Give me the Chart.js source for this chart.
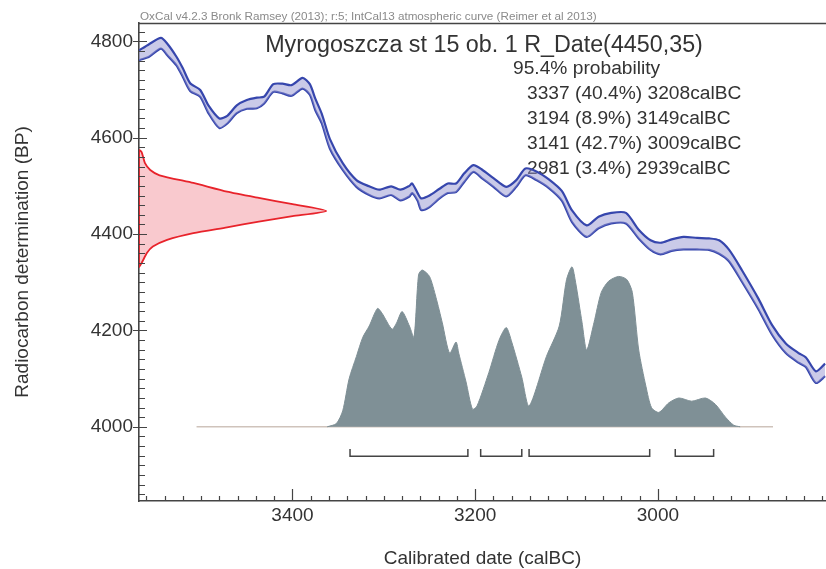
<!DOCTYPE html>
<html>
<head>
<meta charset="utf-8">
<script src="https://cdn.jsdelivr.net/npm/chart.js@4.4.0/dist/chart.umd.min.js"></script>
<style>
html,body{margin:0;padding:0;background:#fff}
#wrap{width:826px;height:569px;position:relative}
</style>
</head>
<body>
<div id="wrap"><canvas id="c" width="826" height="569"></canvas></div>
<script>
// ---------------- data ----------------
const headerText = "OxCal v4.2.3 Bronk Ramsey (2013); r:5; IntCal13 atmospheric curve (Reimer et al 2013)";
const sampleName = "Myrogoszcza st 15 ob. 1";
const rDate = [4450, 35];
const probLabel = "95.4% probability";
const rangeStart = [3337, 3194, 3141, 2981];
const rangeEnd   = [3208, 3149, 3009, 2939];
const rangePct   = [40.4, 8.9, 42.7, 3.4];

const xTickValues = [3400, 3200, 3000];
const yTickValues = [4000, 4200, 4400, 4600, 4800];
const xTitle = "Calibrated date (calBC)";
const yTitle = "Radiocarbon determination (BP)";

// IntCal13 calibration curve (cal BC, BP, 1 sigma)
const calYear = [3568,3557,3544,3537,3527,3520,3512,3501,3492,3480,3471,3461,3450,3439,3431,3421,3411,3401,3389,3381,3375,3368,3359,3345,3330,3316,3305,3292,3282,3272,3269,3263,3259,3250,3239,3230,3221,3212,3202,3192,3180,3166,3155,3145,3133,3119,3105,3094,3078,3065,3051,3035,3021,3008,2997,2985,2972,2957,2944,2933,2922,2908,2890,2875,2860,2846,2838,2827,2817];
const calBP   = [4771,4781,4796,4783,4759,4735,4705,4692,4659,4630,4638,4659,4669,4672,4678,4703,4702,4698,4713,4700,4669,4640,4587,4540,4505,4490,4483,4490,4481,4489,4495,4477,4462,4468,4484,4495,4496,4517,4536,4524,4507,4488,4505,4529,4521,4504,4479,4437,4406,4424,4433,4433,4400,4377,4370,4377,4381,4380,4379,4373,4355,4313,4255,4201,4163,4143,4134,4103,4118];
const calErr  = [10,13,11,12,9,9,8,7,8,10,8,8,9,11,7,8,10,11,11,11,12,10,10,7,7,9,9,9,11,11,10,8,12,12,10,10,9,9,7,9,9,10,7,7,9,9,10,12,12,12,11,11,9,10,12,12,13,12,12,14,12,12,11,10,10,10,10,12,13];

// calibrated probability distribution (relative)
const distYear = [3362,3352,3345,3338,3330,3323,3316,3307,3302,3291,3286,3280,3272,3267,3262,3258,3250,3243,3236,3228,3221,3218,3210,3203,3198,3185,3174,3166,3160,3149,3141,3122,3108,3100,3094,3090,3083,3078,3070,3062,3054,3043,3034,3028,3021,3013,3007,2999,2988,2977,2963,2948,2937,2926,2917,2910];
const distProb = [0,0.02,0.1,0.3,0.44,0.56,0.63,0.74,0.71,0.61,0.65,0.72,0.63,0.56,0.95,0.98,0.94,0.81,0.65,0.46,0.53,0.46,0.28,0.11,0.13,0.34,0.54,0.62,0.53,0.31,0.13,0.44,0.63,0.92,1.0,0.9,0.65,0.48,0.65,0.84,0.91,0.94,0.92,0.84,0.48,0.25,0.12,0.09,0.15,0.18,0.16,0.18,0.14,0.06,0.01,0];
const distLimits = [3505, 2874];

// radiocarbon measurement likelihood (BP, relative density)
const measBP   = [4575,4570,4547,4533,4522,4506,4488,4475,4462,4448,4437,4426,4414,4402,4388,4374,4361,4340,4332];
const measDens = [0,0.014,0.032,0.06,0.11,0.29,0.47,0.64,0.82,1.0,0.82,0.64,0.47,0.29,0.15,0.074,0.043,0.014,0];

// ---------------- layout constants ----------------
const X_MIN = 2816, X_MAX = 3568;
const Y_MIN = 3846, Y_MAX = 4838;
const DIST_BASE_BP = 4000, DIST_PEAK_BP = 4332;
const MEAS_PEAK_YEAR = 3363;
const BRACKET_BP = 3939, BRACKET_TICK_BP = 3954;
const FONT = "'Liberation Sans', Arial, Helvetica, sans-serif";
const TXT = '#333';
const AXIS = '#444';

const f0 = (DIST_BASE_BP - Y_MIN) / (Y_MAX - Y_MIN);
const f1 = (DIST_PEAK_BP - Y_MIN) / (Y_MAX - Y_MIN);
const probSpan = 1 / (f1 - f0);
const probMin = -f0 * probSpan, probMax = probMin + probSpan;
const densMax = (X_MAX - X_MIN) / (X_MAX - MEAS_PEAK_YEAR);

// ---------------- datasets ----------------
const calUpper = calYear.map((x, i) => ({x, y: calBP[i] + calErr[i]}));
const calLower = calYear.map((x, i) => ({x, y: calBP[i] - calErr[i]}));
const distPts = distYear.map((x, i) => ({x, y: distProb[i]}));
const measPts = measBP.map((b, i) => ({x: measDens[i], y: b}));
measPts.push({x: 0, y: measBP[0]});

const datasets = [
  {label:'cal upper', data: calUpper, xAxisID:'x', yAxisID:'y', showLine:true, pointRadius:0,
   borderColor:'#3646ad', borderWidth:2.2, tension:0.25, fill:'+1', backgroundColor:'rgba(150,150,210,0.5)', order:1},
  {label:'cal lower', data: calLower, xAxisID:'x', yAxisID:'y', showLine:true, pointRadius:0,
   borderColor:'#3646ad', borderWidth:2.2, tension:0.25, fill:false, order:1},
  {label:'measurement', data: measPts, xAxisID:'xDens', yAxisID:'y', showLine:true, pointRadius:0,
   borderColor:'#e8232b', borderWidth:1.8, tension:0.2, fill:'shape', backgroundColor:'rgba(238,90,105,0.33)', order:2},
  {label:'baseline', data: distLimits.map(x => ({x, y:0})), xAxisID:'x', yAxisID:'yProb', showLine:true, pointRadius:0,
   borderColor:'#cfc3bb', borderWidth:1.6, fill:false, order:5},
  {label:'distribution', data: distPts, xAxisID:'x', yAxisID:'yProb', showLine:true, pointRadius:0,
   borderColor:'#7e8f95', borderWidth:1, tension:0.25, fill:'origin', backgroundColor:'#7f9096', order:4}
];
rangeStart.forEach((s, i) => {
  datasets.push({label:'range '+(i+1), xAxisID:'x', yAxisID:'y', showLine:true, pointRadius:0,
    borderColor:'#444', borderWidth:1.5, tension:0, fill:false, order:3,
    data:[{x:s,y:BRACKET_TICK_BP},{x:s,y:BRACKET_BP},{x:rangeEnd[i],y:BRACKET_BP},{x:rangeEnd[i],y:BRACKET_TICK_BP}]});
});

// ---------------- plugins ----------------
const annotations = {
  id: 'annotations',
  beforeDatasetsDraw(chart) {
    const {ctx} = chart;
    ctx.save();
    ctx.fillStyle = '#8a8a8a';
    ctx.font = '11.7px ' + FONT;
    ctx.textAlign = 'left'; ctx.textBaseline = 'alphabetic';
    ctx.fillText(headerText, 140, 20);
    ctx.fillStyle = TXT;
    ctx.font = '23.3px ' + FONT;
    ctx.textAlign = 'center';
    ctx.fillText(sampleName + ' R_Date(' + rDate[0] + ',' + rDate[1] + ')', 484, 52);
    ctx.textAlign = 'left';
    ctx.font = '19.2px ' + FONT;
    ctx.fillText(probLabel, 513, 73.5);
    rangeStart.forEach((s, i) => {
      ctx.fillText(s + ' (' + rangePct[i].toFixed(1) + '%) ' + rangeEnd[i] + 'calBC', 527, 99 + i * 25);
    });
    ctx.restore();
  },
  afterDraw(chart) {
    const {ctx, chartArea: a} = chart;
    const xs = chart.scales.x, ys = chart.scales.y;
    ctx.save();
    ctx.strokeStyle = AXIS;
    ctx.lineWidth = 1.5;
    ctx.beginPath();
    ctx.moveTo(a.left, a.top + 0.5); ctx.lineTo(a.right, a.top + 0.5);
    ctx.stroke();
    ctx.lineWidth = 1.2;
    ctx.beginPath();
    const majX = xs.ticks.map(t => t.value);
    for (let v = Math.ceil(xs.min / 20) * 20; v <= xs.max; v += 20) {
      const px = Math.round(xs.getPixelForValue(v)) + 0.5;
      const len = majX.includes(v) ? 12 : 5;
      ctx.moveTo(px, a.bottom); ctx.lineTo(px, a.bottom - len);
    }
    const majY = ys.ticks.map(t => t.value);
    for (let v = Math.ceil(ys.min / 20) * 20; v <= ys.max; v += 20) {
      const py = Math.round(ys.getPixelForValue(v)) + 0.5;
      if (majY.includes(v)) { ctx.moveTo(a.left - 6, py); ctx.lineTo(a.left + 8, py); }
      else { ctx.moveTo(a.left, py); ctx.lineTo(a.left + 6, py); }
    }
    ctx.stroke();
    ctx.restore();
  }
};

new Chart(document.getElementById('c'), {
  type: 'scatter',
  data: { datasets },
  plugins: [annotations],
  options: {
    responsive: false,
    animation: false,
    devicePixelRatio: 1,
    layout: { padding: { top: 23, right: 0, left: 0, bottom: 0 } },
    plugins: { legend: { display: false }, tooltip: { enabled: false } },
    scales: {
      x: {
        type: 'linear', position: 'bottom', reverse: true, min: X_MIN, max: X_MAX,
        afterBuildTicks: s => { s.ticks = xTickValues.map(v => ({value: v})); },
        afterFit: s => { s.height = 68; },
        grid: { display: false, drawTicks: false },
        border: { display: true, color: AXIS, width: 1.6 },
        ticks: { font: { family: FONT, size: 19 }, color: TXT, padding: 3, autoSkip: false, maxRotation: 0,
                 callback: v => String(v) },
        title: { display: true, text: xTitle, font: { family: FONT, size: 19 }, color: TXT, padding: { top: 0, bottom: -1 } }
      },
      y: {
        type: 'linear', position: 'left', min: Y_MIN, max: Y_MAX,
        afterBuildTicks: s => { s.ticks = yTickValues.map(v => ({value: v})); },
        afterFit: s => { s.width = 139; },
        grid: { display: false, drawTicks: false },
        border: { display: true, color: AXIS, width: 1.6 },
        ticks: { font: { family: FONT, size: 19 }, color: TXT, padding: 6, callback: v => String(v) },
        title: { display: true, text: yTitle, font: { family: FONT, size: 19 }, color: TXT, padding: { top: 11.6, bottom: 0 } }
      },
      xDens: { type: 'linear', axis: 'x', display: false, min: 0, max: densMax },
      yProb: { type: 'linear', axis: 'y', display: false, min: probMin, max: probMax }
    }
  }
});
</script>
</body>
</html>
